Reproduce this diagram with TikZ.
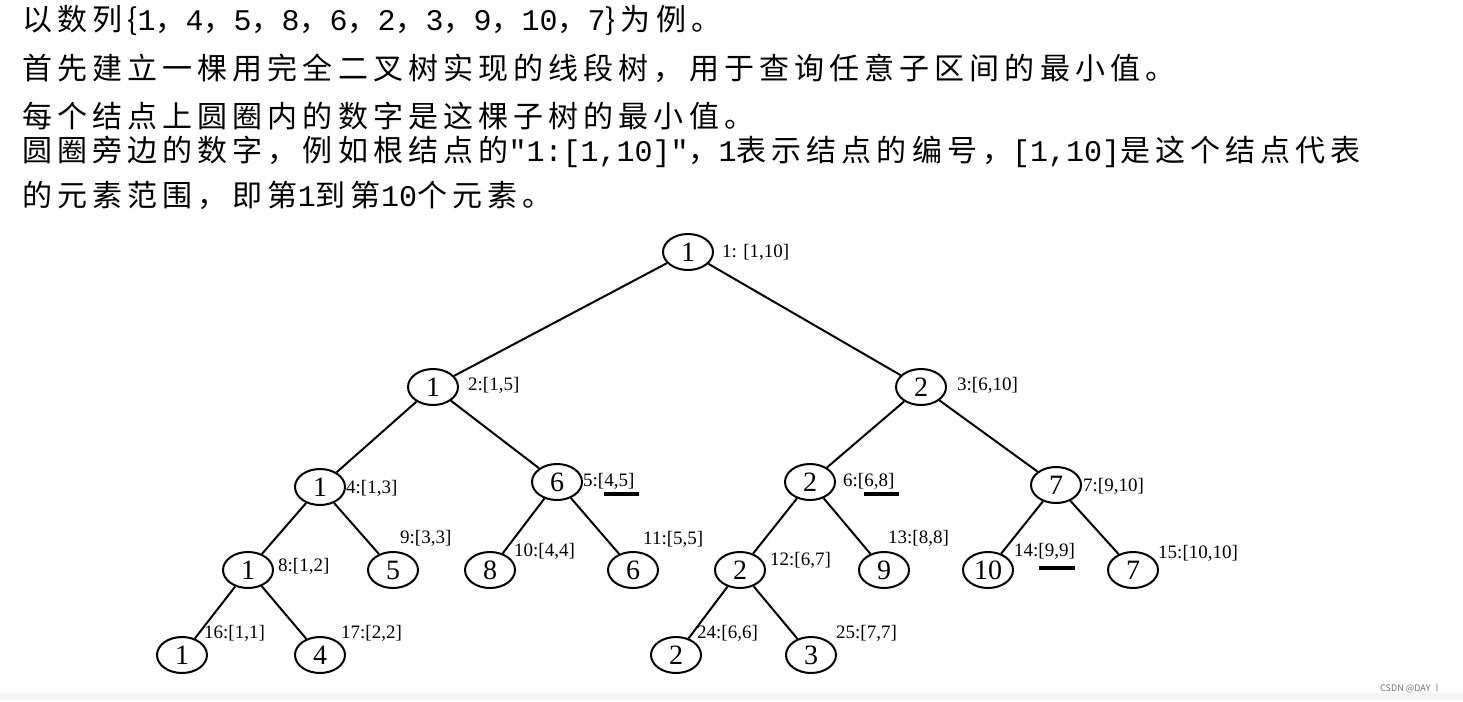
\documentclass[tikz,border=0pt]{standalone}
\usepackage{fontspec}
\setmainfont{Liberation Serif}
\newfontfamily\cjk{Noto Sans CJK SC}
\newfontfamily\cjkw[LetterSpace=17]{Noto Sans CJK SC}
\newfontfamily\mono{Liberation Mono}
\usetikzlibrary{shapes.geometric}
\begin{document}
\begin{tikzpicture}[x=1pt,y=1pt,
  tn/.style={ellipse,draw,line width=2pt,minimum width=50pt,minimum height=36pt,inner sep=0pt,font=\fontsize{28}{28}\selectfont},
  lab/.style={anchor=west,inner sep=0pt,font=\fontsize{19}{19}\selectfont},
  txt/.style={anchor=west,inner sep=0pt,font=\cjkw\fontsize{30}{30}\selectfont},
  ed/.style={line width=2pt},
  bar/.style={line width=3.5pt}]
\useasboundingbox (0,0) rectangle (1463,-701);
\fill[white] (0,0) rectangle (1463,-701);
\fill[black!4] (0,-693) rectangle (1463,-701);
\node[txt] (t1) at (22,-20) {以数列\{{\mono 1}，{\mono 4}，{\mono 5}，{\mono 8}，{\mono 6}，{\mono 2}，{\mono 3}，{\mono 9}，{\mono 10}，{\mono 7}\}为例。};
\node[txt] (t2) at (22,-68) {首先建立一棵用完全二叉树实现的线段树，用于查询任意子区间的最小值。};
\node[txt] (t3) at (22,-116) {每个结点上圆圈内的数字是这棵子树的最小值。};
\node[txt] (t4) at (22,-152) {圆圈旁边的数字，例如根结点的{\mono "1:[1,10]"}，{\mono 1}表示结点的编号，{\mono [1,10]}是这个结点代表};
\node[txt] (t5) at (22,-195) {的元素范围，即第{\mono 1}到第{\mono 10}个元素。};
\node[tn] (n1) at (688,-252) {1};
\node[tn] (n2) at (433,-387) {1};
\node[tn] (n3) at (921,-387) {2};
\node[tn] (n4) at (320,-487) {1};
\node[tn] (n5) at (557,-482) {6};
\node[tn] (n6) at (810,-482) {2};
\node[tn] (n7) at (1056,-485) {7};
\node[tn] (n8) at (248,-570) {1};
\node[tn] (n9) at (393,-570) {5};
\node[tn] (n10) at (490,-570) {8};
\node[tn] (n11) at (633,-570) {6};
\node[tn] (n12) at (740,-570) {2};
\node[tn] (n13) at (884,-570) {9};
\node[tn] (n14) at (988,-570) {10};
\node[tn] (n15) at (1133,-570) {7};
\node[tn] (n16) at (182,-655) {1};
\node[tn] (n17) at (320,-655) {4};
\node[tn] (n24) at (676,-655) {2};
\node[tn] (n25) at (811,-655) {3};
\foreach \a/\b in {1/2,1/3,2/4,2/5,3/6,3/7,4/8,4/9,5/10,5/11,6/12,6/13,7/14,7/15,8/16,8/17,12/24,12/25}
  \draw[ed] (n\a) -- (n\b);
\node[lab] (l1) at (722,-252) {1: [1,10]};
\node[lab] (l2) at (468,-385) {2:[1,5]};
\node[lab] (l3) at (957,-385) {3:[6,10]};
\node[lab] (l4) at (346,-488) {4:[1,3]};
\node[lab] (l5) at (583,-481) {5:[4,5]};
\node[lab] (l6) at (843,-481) {6:[6,8]};
\node[lab] (l7) at (1083,-486) {7:[9,10]};
\node[lab] (l9) at (400,-538) {9:[3,3]};
\node[lab] (l8) at (278,-566) {8:[1,2]};
\node[lab] (l10) at (514,-551) {10:[4,4]};
\node[lab] (l11) at (643,-539) {11:[5,5]};
\node[lab] (l12) at (770,-560) {12:[6,7]};
\node[lab] (l13) at (888,-538) {13:[8,8]};
\node[lab] (l14) at (1014,-551) {14:[9,9]};
\node[lab] (l15) at (1158,-553) {15:[10,10]};
\node[lab] (l16) at (204,-633) {16:[1,1]};
\node[lab] (l17) at (341,-633) {17:[2,2]};
\node[lab] (l24) at (697,-633) {24:[6,6]};
\node[lab] (l25) at (836,-633) {25:[7,7]};
\draw[bar] (604,-494) -- (639,-494);
\draw[bar] (864,-494) -- (899,-494);
\draw[bar] (1039,-568) -- (1075,-568);
\node[anchor=west,inner sep=0pt,text=black!55,font=\cjk\fontsize{9}{9}\selectfont] (wm) at (1380,-688) {CSDN @DAY 丨};
\end{tikzpicture}
\end{document}
